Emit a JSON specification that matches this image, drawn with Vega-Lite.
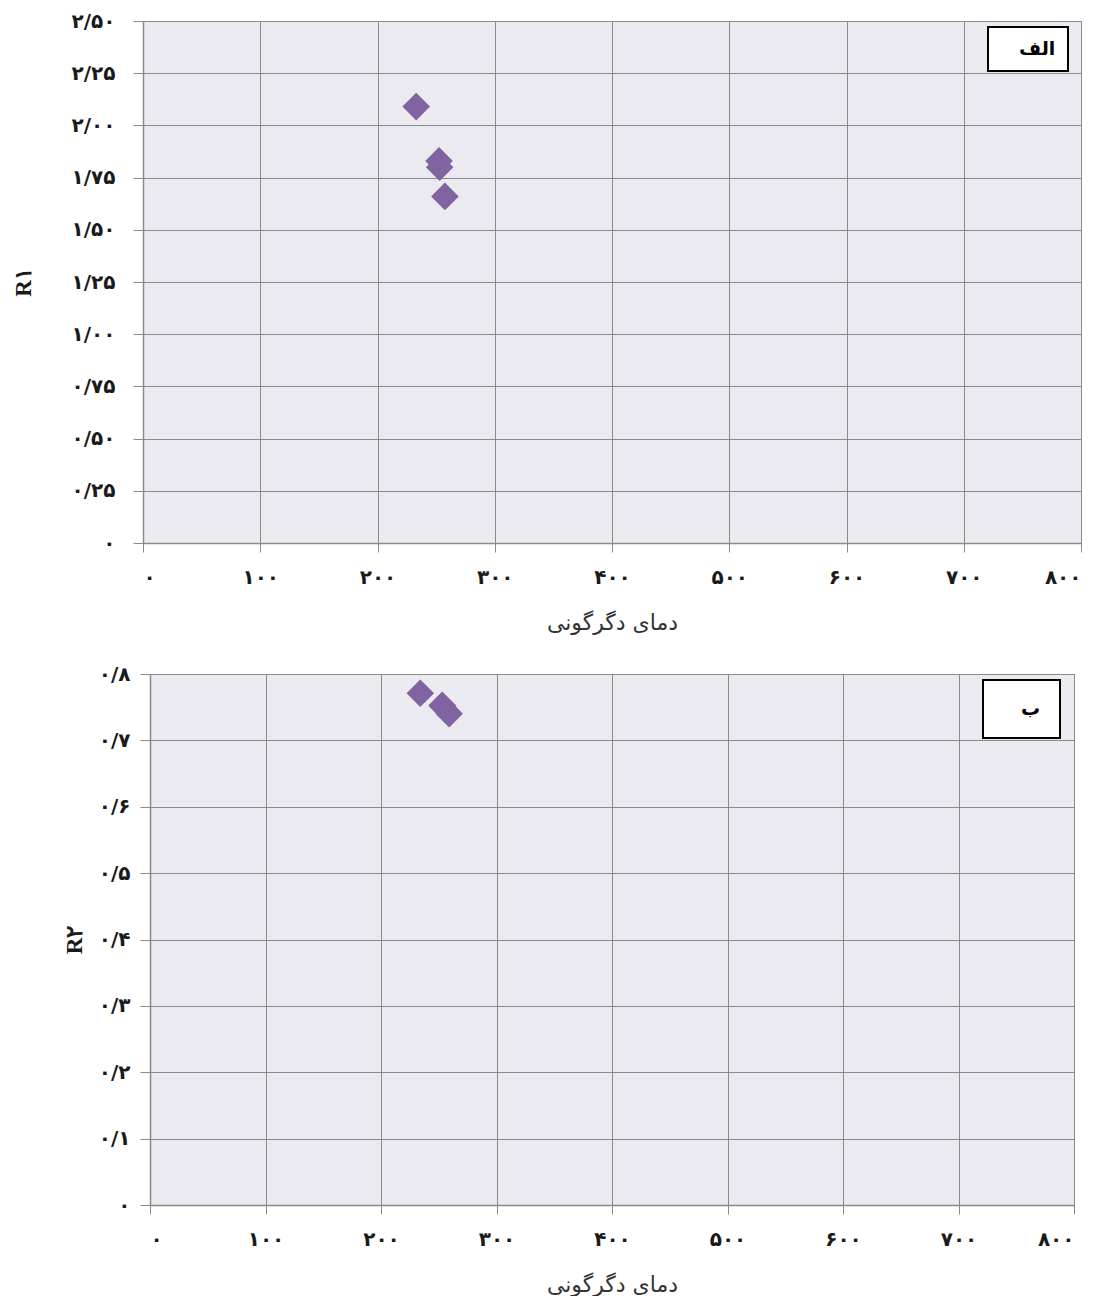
{
  "$schema": "https://vega.github.io/schema/vega-lite/v6.json",
  "background": "white",
  "padding": {"left": 11, "top": 10, "right": 0, "bottom": 0},
  "datasets": {
    "panelA": [
      {"panel": "الف", "T": 233, "R": 2.09},
      {"panel": "الف", "T": 252.5, "R": 1.83},
      {"panel": "الف", "T": 253, "R": 1.80},
      {"panel": "الف", "T": 257.5, "R": 1.66}
    ],
    "panelB": [
      {"panel": "ب", "T": 234, "R": 0.771},
      {"panel": "ب", "T": 253, "R": 0.753},
      {"panel": "ب", "T": 253.5, "R": 0.751},
      {"panel": "ب", "T": 259, "R": 0.740}
    ]
  },
  "spacing": 131,
  "bounds": "flush",
  "center": true,
  "resolve": {"scale": {"color": "independent"}, "legend": {"color": "independent"}},
  "vconcat": [
    {
      "width": 938,
      "height": 522,
      "data": {"name": "panelA"},
      "mark": {"type": "point", "shape": "diamond", "filled": true, "opacity": 1, "size": 760},
      "encoding": {
        "x": {
          "field": "T", "type": "quantitative",
          "scale": {"domain": [0, 800], "nice": false, "zero": false},
          "axis": {
            "title": "دمای دگرگونی",
            "values": [0, 100, 200, 300, 400, 500, 600, 700, 800],
            "labelExpr": "['۰','۱۰۰','۲۰۰','۳۰۰','۴۰۰','۵۰۰','۶۰۰','۷۰۰','۸۰۰'][round(datum.value/100)]",
            "labelPadding": 15,
            "titlePadding": 25
          }
        },
        "y": {
          "field": "R", "type": "quantitative",
          "scale": {"domain": [0, 2.5], "nice": false, "zero": false},
          "axis": {
            "title": "R۱",
            "values": [0, 0.25, 0.5, 0.75, 1, 1.25, 1.5, 1.75, 2, 2.25, 2.5],
            "labelExpr": "['۰','۰/۲۵','۰/۵۰','۰/۷۵','۱/۰۰','۱/۲۵','۱/۵۰','۱/۷۵','۲/۰۰','۲/۲۵','۲/۵۰'][round(datum.value*4)]",
            "tickSize": 10,
            "labelPadding": 18,
            "titlePadding": 36
          }
        },
        "color": {
          "field": "panel", "type": "nominal",
          "scale": {"range": ["#8064A2"]},
          "legend": {
            "title": null, "orient": "none", "legendX": 845, "legendY": 6,
            "padding": 12,
            "labelExpr": "'\u00a0\u00a0' + datum.label + '\u00a0\u00a0'"
          }
        }
      }
    },
    {
      "width": 924,
      "height": 531,
      "data": {"name": "panelB"},
      "mark": {"type": "point", "shape": "diamond", "filled": true, "opacity": 1, "size": 760},
      "encoding": {
        "x": {
          "field": "T", "type": "quantitative",
          "scale": {"domain": [0, 800], "nice": false, "zero": false},
          "axis": {
            "title": "دمای دگرگونی",
            "values": [0, 100, 200, 300, 400, 500, 600, 700, 800],
            "labelExpr": "['۰','۱۰۰','۲۰۰','۳۰۰','۴۰۰','۵۰۰','۶۰۰','۷۰۰','۸۰۰'][round(datum.value/100)]",
            "labelPadding": 15,
            "titlePadding": 25
          }
        },
        "y": {
          "field": "R", "type": "quantitative",
          "scale": {"domain": [0, 0.8], "nice": false, "zero": false},
          "axis": {
            "title": "R۲",
            "values": [0, 0.1, 0.2, 0.3, 0.4, 0.5, 0.6, 0.7, 0.8],
            "labelExpr": "['۰','۰/۱','۰/۲','۰/۳','۰/۴','۰/۵','۰/۶','۰/۷','۰/۸'][round(datum.value*10)]",
            "tickSize": 10,
            "labelPadding": 10,
            "titlePadding": 12
          }
        },
        "color": {
          "field": "panel", "type": "nominal",
          "scale": {"range": ["#8064A2"]},
          "legend": {
            "title": null, "orient": "none", "legendX": 833, "legendY": 6,
            "padding": 19,
            "labelExpr": "'\u00a0\u00a0\u00a0' + datum.label + '\u00a0\u00a0\u00a0'"
          }
        }
      }
    }
  ],
  "config": {
    "view": {"fill": "#EBEAF0", "stroke": "#8A8A8A", "strokeWidth": 1},
    "axis": {
      "grid": true,
      "gridColor": "#8A8A8A",
      "gridOpacity": 1,
      "gridWidth": 1,
      "domainColor": "#8A8A8A",
      "domainWidth": 1.5,
      "tickColor": "#8A8A8A",
      "tickSize": 9,
      "tickWidth": 1,
      "labelFont": "DejaVu Sans",
      "labelFontSize": 20,
      "labelFontWeight": "bold",
      "labelColor": "#1A1A1A"
    },
    "axisX": {
      "titleFont": "DejaVu Sans",
      "titleFontSize": 22,
      "titleFontWeight": "normal",
      "titleColor": "#333333"
    },
    "axisY": {
      "titleFont": "Liberation Serif",
      "titleFontSize": 23,
      "titleFontWeight": "bold",
      "titleColor": "#1A1A1A"
    },
    "legend": {
      "strokeColor": "#000000",
      "strokeWidth": 2,
      "fillColor": "#FFFFFF",
      "symbolSize": 0,
      "symbolOpacity": 0,
      "symbolStrokeWidth": 0,
      "labelOffset": 0,
      "labelFont": "DejaVu Sans",
      "labelFontSize": 19,
      "labelFontWeight": "bold",
      "labelColor": "#000000"
    }
  }
}
